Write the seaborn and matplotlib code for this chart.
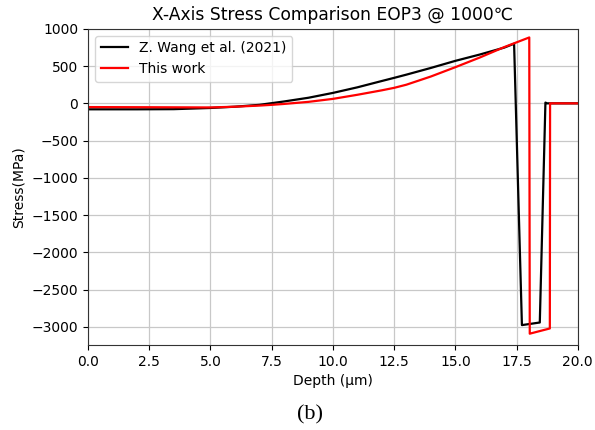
import matplotlib
matplotlib.use("Agg")
import matplotlib.pyplot as plt
import seaborn as sns
import pandas as pd

# Data
wang_depth = [0, 2.0, 3.5, 5.0, 6.0, 7.0, 8.0, 9.0, 10.0, 11.0, 12.0, 12.5, 13.0, 14.0, 15.0, 16.0,
              17.0, 17.4, 17.72, 18.45, 18.68, 18.75, 20.0]
wang_stress = [-80, -80, -78, -62, -45, -20, 25, 75, 140, 215, 300, 342, 385, 475, 570, 655,
               748, 800, -2975, -2940, 10, 0, 0]

this_depth = [0, 2.5, 5.0, 6.0, 7.0, 7.5, 8.0, 9.0, 10.0, 11.0, 12.0, 12.5, 13.0, 14.0, 15.0,
              16.0, 17.0, 18.02, 18.04, 18.86, 18.87, 20.0]
this_stress = [-50, -52, -55, -45, -30, -20, -8, 20, 60, 115, 175, 208, 250, 360, 485,
               615, 755, 884, -3090, -3020, 0, 0]

labels = ["Z. Wang et al. (2021)", "This work"]
colors = ["black", "red"]

title = "X-Axis Stress Comparison EOP3 @ 1000\u2103"
xlabel = "Depth (\u03bcm)"
ylabel = "Stress(MPa)"
caption = "(b)"

df = pd.concat([
    pd.DataFrame({"Depth": wang_depth, "Stress": wang_stress, "Source": labels[0]}),
    pd.DataFrame({"Depth": this_depth, "Stress": this_stress, "Source": labels[1]}),
], ignore_index=True)

fig = plt.figure(figsize=(5.95, 4.3), dpi=100)
ax = fig.add_axes([0.148, 0.198, 0.823, 0.735])

sns.lineplot(data=df, x="Depth", y="Stress", hue="Source", palette=colors,
             sort=False, estimator=None, linewidth=1.6, ax=ax)

ax.set_xlim(0, 20)
ax.set_ylim(-3240, 1000)
ax.set_xticks([0, 2.5, 5, 7.5, 10, 12.5, 15, 17.5, 20])
ax.set_yticks([1000, 500, 0, -500, -1000, -1500, -2000, -2500, -3000])
ax.set_yticklabels(["1000", "500", "0", "\u2212500", "\u22121000", "\u22121500",
                    "\u22122000", "\u22122500", "\u22123000"])
ax.tick_params(labelsize=10)
ax.grid(True, color="#c8c8c8", linewidth=0.9)
ax.set_axisbelow(True)
ax.set_title(title, fontsize=12.3)
ax.set_xlabel(xlabel, fontsize=10)
ax.set_ylabel(ylabel, fontsize=10)
ax.legend(loc="upper left", fontsize=10, title=None)
for s in ax.spines.values():
    s.set_color("#333333")

fig.text(0.521, 0.035, caption, ha="center", va="center", fontsize=16,
         family="Liberation Serif")

fig.savefig("out.png", dpi=100)
